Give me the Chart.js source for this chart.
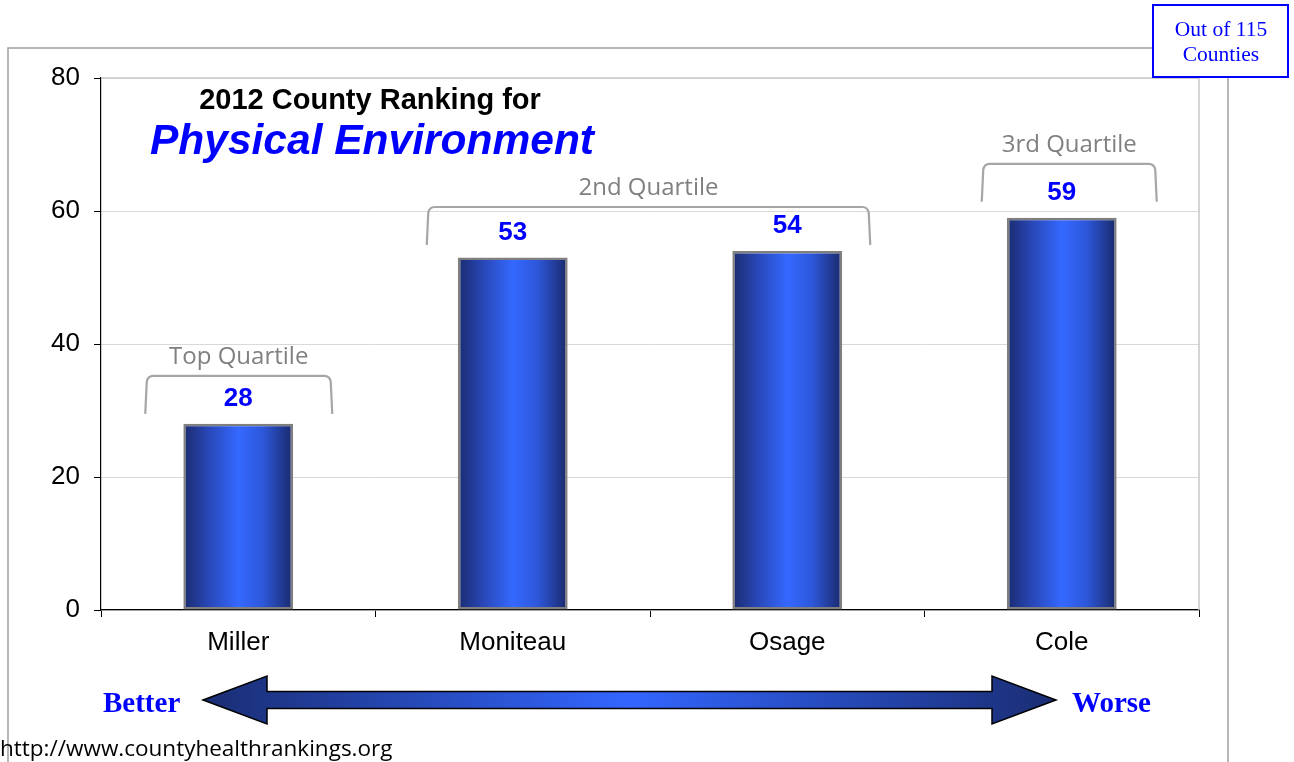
<!DOCTYPE html>
<html>
<head>
<meta charset="utf-8">
<script src="https://cdn.jsdelivr.net/npm/chart.js@4.4.1/dist/chart.umd.min.js"></script>
<style>
  html, body { margin:0; padding:0; background:#fff; }
  #wrap { width:1294px; height:762px; }
</style>
</head>
<body>
<div id="wrap"><canvas id="rankChart" width="1294" height="762"></canvas></div>
<script>
const counties = ['Miller', 'Moniteau', 'Osage', 'Cole'];
const ranks    = [28, 53, 54, 59];
const yTicks   = [0, 20, 40, 60, 80];
const quartileNames = ['Top Quartile', '2nd Quartile', '3rd Quartile'];
const quartileFrom  = [0, 1, 3];
const quartileTo    = [0, 2, 3];
const quartileLevel = [35.2, 60.6, 67.1];
// bracket overhang beyond the category centres, px (left, right)
const bracketPad = [[93, 94], [86, 83], [80, 95]];

const SANS  = '"Liberation Sans", Arial, sans-serif';
const SERIF = '"Liberation Serif", "Times New Roman", serif';
const CAL   = '"Open Sans", "Noto Sans", sans-serif';

function barGradient(c) {
  const chart = c.chart;
  const xs = chart.scales.x;
  if (!xs || xs.left === undefined) return '#3366ff';
  const cx = xs.getPixelForValue(c.dataIndex);
  const half = (xs.width / counties.length) * 0.4 / 2;
  const g = chart.ctx.createLinearGradient(cx - half, 0, cx + half, 0);
  g.addColorStop(0,   '#1a2b6e');
  g.addColorStop(0.22,'#2846b4');
  g.addColorStop(0.5, '#3468ff');
  g.addColorStop(0.72,'#2e58dc');
  g.addColorStop(1,   '#19296a');
  return g;
}

const decor = {
  id:'decor',
  beforeDraw(chart) {
    const ctx = chart.ctx;
    ctx.save();
    ctx.fillStyle = '#fff';
    ctx.fillRect(0, 0, chart.width, chart.height);
    ctx.strokeStyle = '#a0a0a0';
    ctx.lineWidth = 1.5;
    ctx.beginPath();
    ctx.moveTo(8, 762); ctx.lineTo(8, 48); ctx.lineTo(1153, 48);
    ctx.moveTo(1228, 77); ctx.lineTo(1228, 762);
    ctx.stroke();
    ctx.restore();
  },
  afterDraw(chart) {
    const ctx = chart.ctx;
    const xs = chart.scales.x, ys = chart.scales.y;
    const area = chart.chartArea;
    ctx.save();
    ctx.strokeStyle = '#c8c8c8';
    ctx.lineWidth = 1.5;
    ctx.beginPath();
    ctx.moveTo(area.left, area.top); ctx.lineTo(area.right, area.top); ctx.lineTo(area.right, area.bottom);
    ctx.stroke();

    // value labels
    const meta = chart.getDatasetMeta(0);
    ctx.fillStyle = '#0000ff';
    ctx.font = 'bold 26px ' + SANS;
    ctx.textAlign = 'center';
    ctx.textBaseline = 'middle';
    meta.data.forEach((bar, i) => ctx.fillText(String(ranks[i]), bar.x, bar.y - 25));

    // quartile brackets
    quartileNames.forEach((name, k) => {
      const x0 = xs.getPixelForValue(quartileFrom[k]) - bracketPad[k][0];
      const x1 = xs.getPixelForValue(quartileTo[k]) + bracketPad[k][1];
      const yt = ys.getPixelForValue(quartileLevel[k]);
      const yb = yt + 38;
      ctx.strokeStyle = '#a6a6a6';
      ctx.lineWidth = 2.2;
      ctx.beginPath();
      ctx.moveTo(x0, yb);
      ctx.lineTo(x0 + 1.5, yt + 6);
      ctx.quadraticCurveTo(x0 + 2.5, yt, x0 + 8, yt);
      ctx.lineTo(x1 - 8, yt);
      ctx.quadraticCurveTo(x1 - 2.5, yt, x1 - 1.5, yt + 6);
      ctx.lineTo(x1, yb);
      ctx.stroke();
      ctx.fillStyle = '#808080';
      ctx.font = '24px ' + CAL;
      ctx.textAlign = 'center';
      ctx.textBaseline = 'middle';
      ctx.fillText(name, (x0 + x1) / 2, yt - 19);
    });

    // title
    ctx.textAlign = 'center';
    ctx.textBaseline = 'middle';
    ctx.fillStyle = '#000';
    ctx.font = 'bold 29px ' + SANS;
    ctx.fillText('2012 County Ranking for', 370, 101);
    ctx.fillStyle = '#0000ff';
    ctx.font = 'italic bold 42.5px ' + SANS;
    ctx.fillText('Physical Environment', 372, 142);

    // "Out of 115 Counties" box
    ctx.fillStyle = '#fff';
    ctx.fillRect(1153, 5, 135, 72);
    ctx.strokeStyle = '#0000ff';
    ctx.lineWidth = 2;
    ctx.strokeRect(1153, 5, 135, 72);
    ctx.fillStyle = '#0000ff';
    ctx.font = '21.5px ' + SERIF;
    ctx.fillText('Out of 115', 1221, 30);
    ctx.fillText('Counties', 1221, 55);

    // double arrow
    const ay = 700, ax0 = 203, ax1 = 1056, head = 64, hh = 24, sh = 8.5;
    const ag = ctx.createLinearGradient(ax0, 0, ax1, 0);
    ag.addColorStop(0, '#1a2d72');
    ag.addColorStop(0.5, '#3366ff');
    ag.addColorStop(1, '#1a2d72');
    ctx.beginPath();
    ctx.moveTo(ax0, ay);
    ctx.lineTo(ax0 + head, ay - hh);
    ctx.lineTo(ax0 + head, ay - sh);
    ctx.lineTo(ax1 - head, ay - sh);
    ctx.lineTo(ax1 - head, ay - hh);
    ctx.lineTo(ax1, ay);
    ctx.lineTo(ax1 - head, ay + hh);
    ctx.lineTo(ax1 - head, ay + sh);
    ctx.lineTo(ax0 + head, ay + sh);
    ctx.lineTo(ax0 + head, ay + hh);
    ctx.closePath();
    ctx.fillStyle = ag;
    ctx.fill();
    ctx.strokeStyle = '#000';
    ctx.lineWidth = 1.5;
    ctx.stroke();

    ctx.fillStyle = '#0000ff';
    ctx.font = 'bold 29px ' + SERIF;
    ctx.textAlign = 'left';
    ctx.fillText('Better', 103, 705);
    ctx.fillText('Worse', 1072, 705);

    // source
    ctx.fillStyle = '#000';
    ctx.font = '22.5px ' + CAL;
    ctx.textAlign = 'left';
    ctx.textBaseline = 'alphabetic';
    ctx.fillText('http://www.countyhealthrankings.org', 0, 756);
    ctx.restore();
  }
};

new Chart(document.getElementById('rankChart'), {
  type:'bar',
  data:{
    labels: counties,
    datasets:[{
      data: ranks,
      backgroundColor: barGradient,
      borderColor:'#7f7f7f',
      borderWidth:2.5,
      borderSkipped:false,
      barPercentage:0.4,
      categoryPercentage:1
    }]
  },
  options:{
    responsive:false,
    animation:false,
    layout:{ padding:{ left:0, top:78, right:95, bottom:0 } },
    plugins:{ legend:{display:false}, tooltip:{enabled:false} },
    scales:{
      x:{
        afterFit(s){ s.height = 152; },
        grid:{ offset:true, drawOnChartArea:false, color:'#000', tickLength:7, lineWidth:1 },
        border:{ color:'#000', width:1.2 },
        ticks:{ color:'#000', font:{ family:SANS, size:26 }, padding:10 }
      },
      y:{
        min:0, max:80,
        afterFit(s){ s.width = 101; },
        afterBuildTicks(s){ s.ticks = yTicks.map(v => ({ value:v })); },
        grid:{ color:'#d9d9d9', tickColor:'#000', tickLength:7, lineWidth:1 },
        border:{ color:'#000', width:1.2 },
        ticks:{ color:'#000', font:{ family:SANS, size:26 }, padding:14 }
      }
    }
  },
  plugins:[decor]
});
</script>
</body>
</html>
